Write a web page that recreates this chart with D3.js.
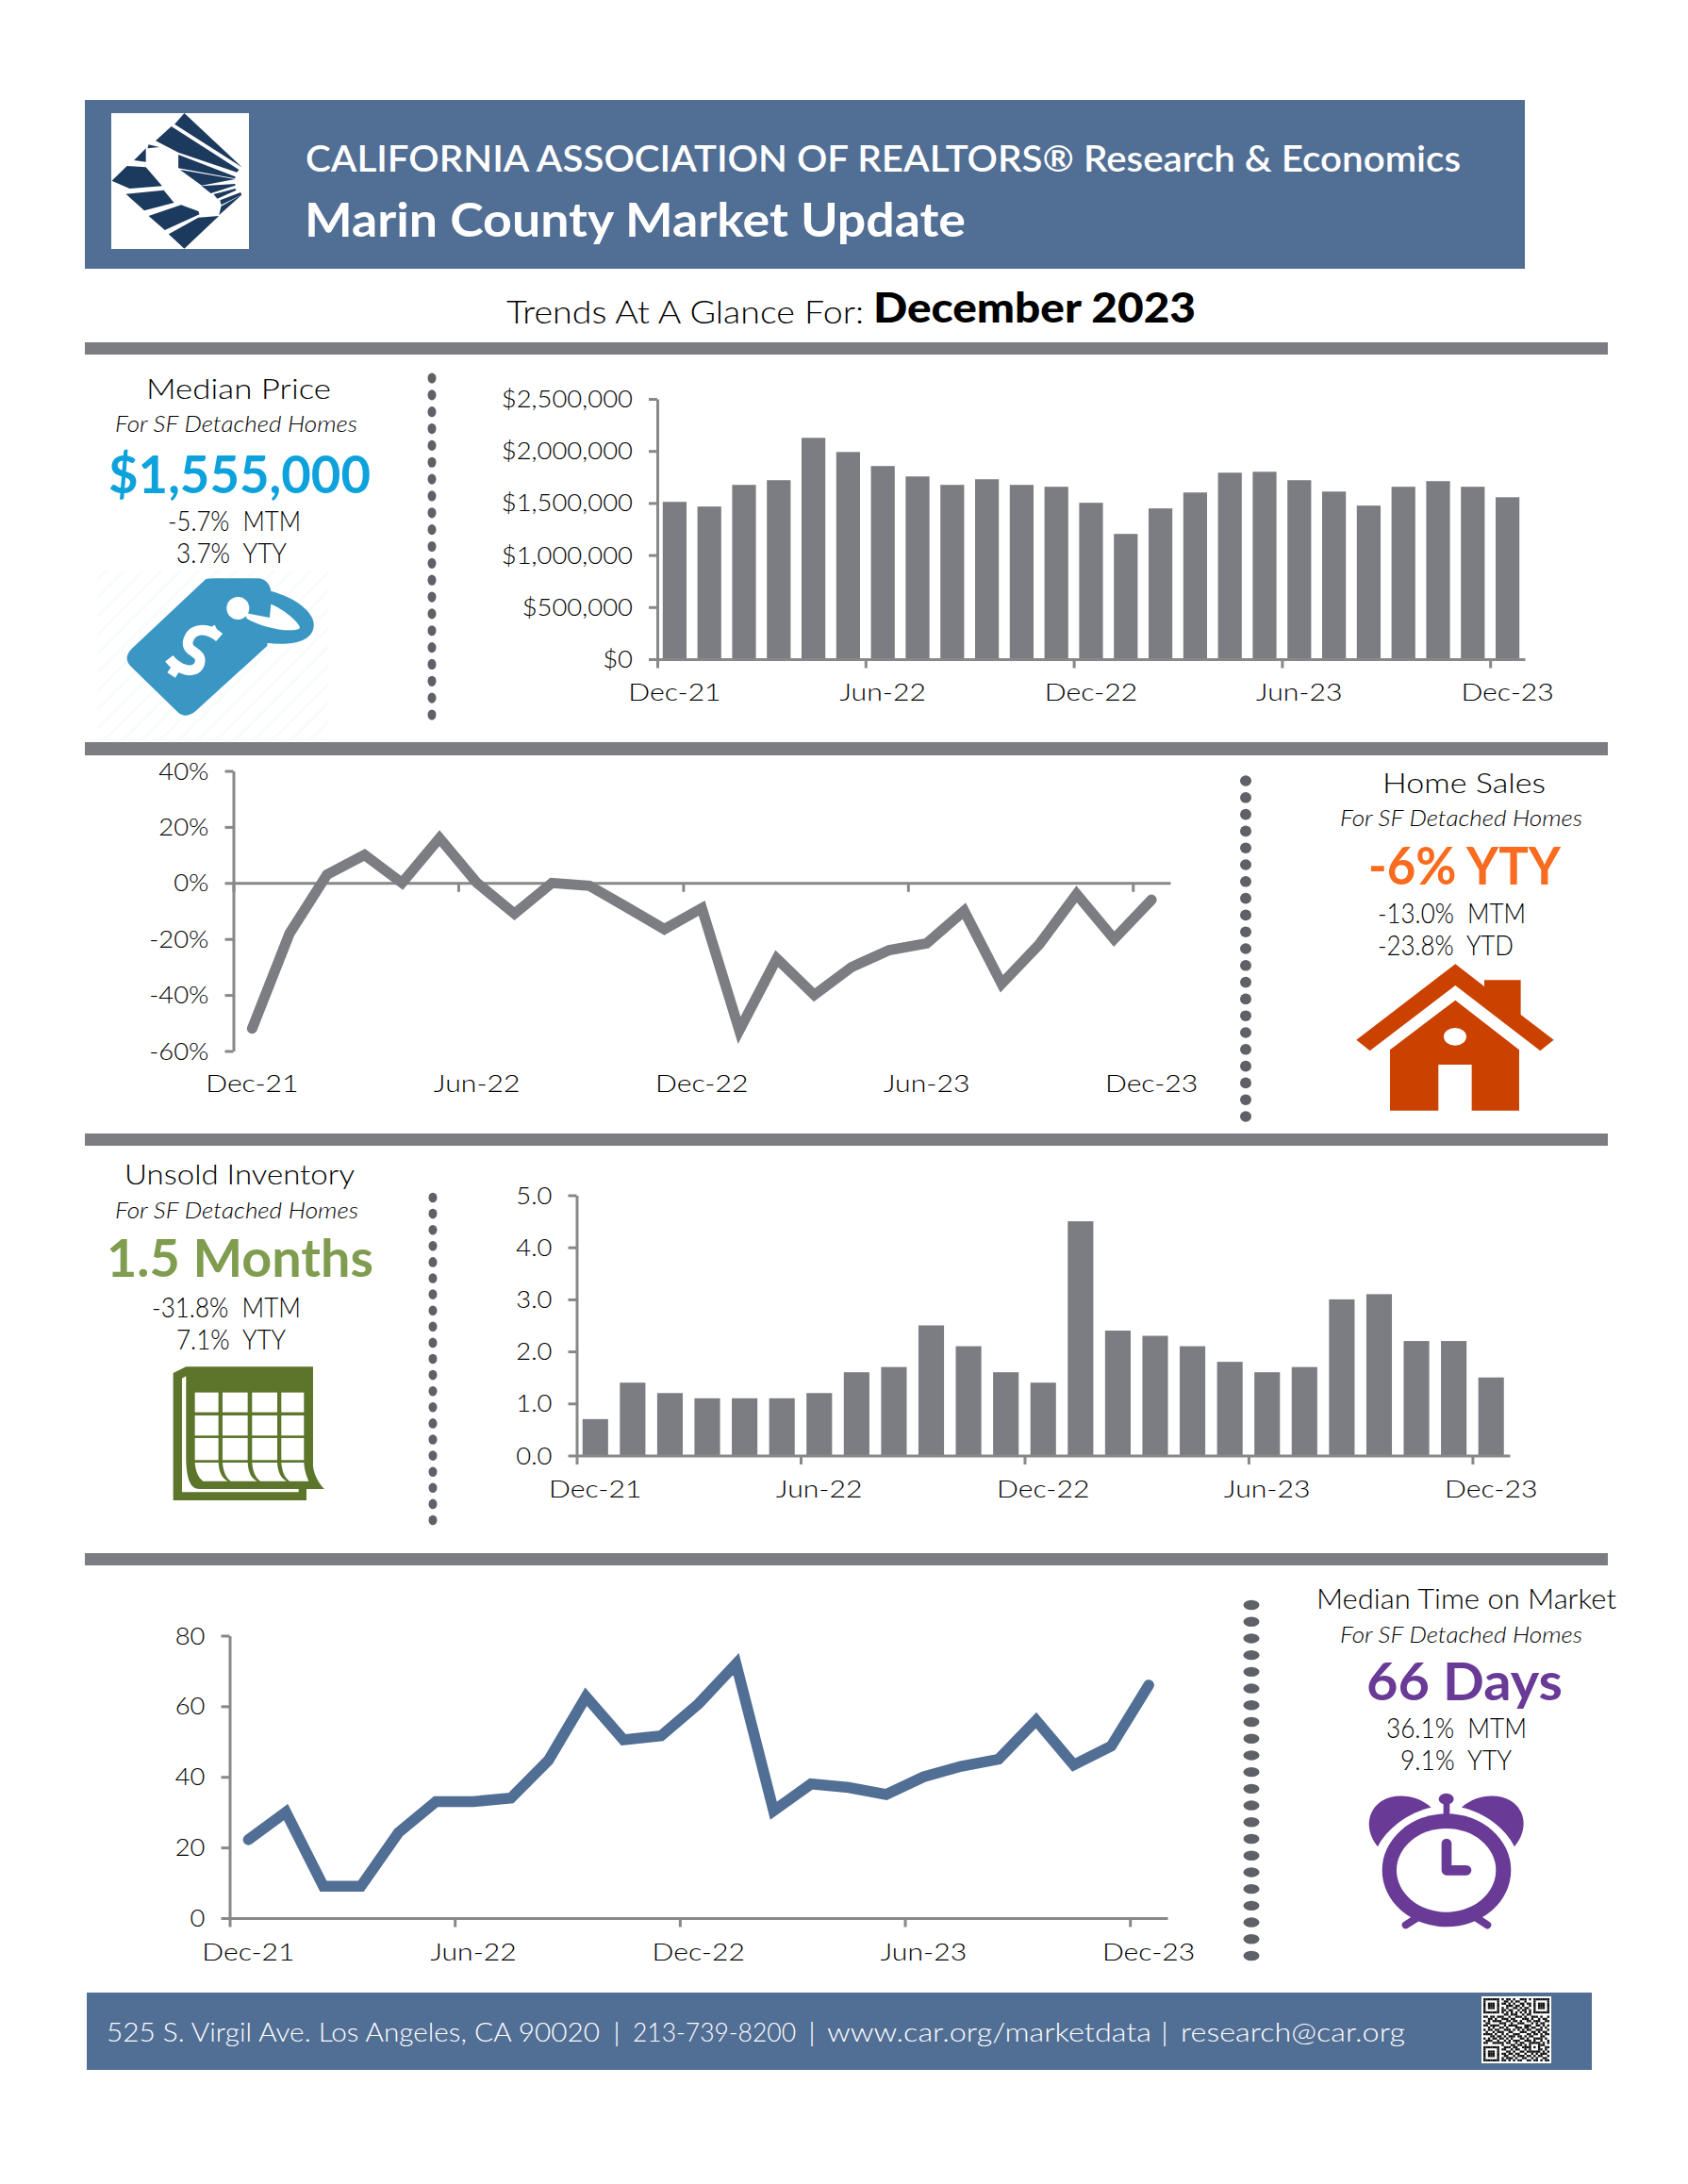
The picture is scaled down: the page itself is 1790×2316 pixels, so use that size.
<!DOCTYPE html>
<html><head><meta charset="utf-8">
<script src="https://cdn.jsdelivr.net/npm/d3@7/dist/d3.min.js"></script>
<style>html,body{margin:0;padding:0;background:#fff}svg{display:block}text{font-family:Lato,"Open Sans",sans-serif}</style>
</head><body><svg id="c" width="1790" height="2316"></svg>
<script>
const months=["Dec-21","Jan-22","Feb-22","Mar-22","Apr-22","May-22","Jun-22","Jul-22","Aug-22","Sep-22","Oct-22","Nov-22","Dec-22","Jan-23","Feb-23","Mar-23","Apr-23","May-23","Jun-23","Jul-23","Aug-23","Sep-23","Oct-23","Nov-23","Dec-23"];
const xLabels=["Dec-21","Jun-22","Dec-22","Jun-23","Dec-23"];
const edgeTicks=[0,6,12,18,24];
const medianPrice=[1511000,1466000,1674000,1719000,2126000,1990000,1855000,1755000,1674000,1728000,1674000,1656000,1502000,1203000,1448000,1601000,1791000,1800000,1719000,1610000,1475000,1656000,1710000,1656000,1555000];
const priceTicks=[0,500000,1000000,1500000,2000000,2500000];
const homeSalesYoY=[-52,-18,3,10,0,16,0,-11,0,-1,-8.7,-16.5,-9,-52.6,-27,-40,-30,-24,-21.6,-10,-36,-22,-4,-20,-6];
const salesTicks=[-60,-40,-20,0,20,40];
const inventory=[0.7,1.4,1.2,1.1,1.1,1.1,1.2,1.6,1.7,2.5,2.1,1.6,1.4,4.5,2.4,2.3,2.1,1.8,1.6,1.7,3.0,3.1,2.2,2.2,1.5];
const inventoryTicks=[0,1,2,3,4,5];
const daysOnMarket=[22.2,30,9,9,24.2,33,33,34,44.7,62.7,50.5,51.6,60.7,72,30.4,38,37,35,40,43,45,56,43.4,48.7,66];
const daysTicks=[0,20,40,60,80];
const qrRows=[
"11111110101101001110101111111",
"10000010011010110010001000001",
"10111010110101001101101011101",
"10111010001110110100101011101",
"10111010101001101011001011101",
"10000010110110010110101000001",
"11111110101010101010101111111",
"00000000011011100101100000000",
"11011011100100111010011101001",
"00110100111011000111010010110",
"10101111001101101001101110011",
"01100001110010011100010101100",
"11011110010111100011100110101",
"00101001101000111011011001010",
"10110110011101010101100111001",
"01001011100110001110011010110",
"11110100101001110001101101011",
"00011011010111011010110001100",
"10101101101010001101001111010",
"01110010010101110011101001001",
"11001111101100101100111110101",
"00000000100011011010100011100",
"11111110011101100111101010011",
"10000010110010110010100011010",
"10111010001101001101111110101",
"10111010110110110010010101110",
"10111010011001011101101011001",
"10000010101110100110010100110",
"11111110110101011001101101011"];

const grey="#7c7d82",axisCol="#888888",navy="#1c3a5e",banner="#516e94";
const svg=d3.select("#c");

function txt(x,y,s,size,opts={}){
  const t=svg.append("text").attr("x",x).attr("y",y).text(s).attr("font-size",size)
    .attr("fill",opts.fill||"#000").attr("font-weight",opts.w||300);
  if(opts.it)t.attr("font-style","italic");
  if(opts.ws)t.attr("word-spacing",opts.ws);
  if(opts.wd)t.attr("textLength",opts.wd).attr("lengthAdjust","spacingAndGlyphs");
  return t;
}
function rect(x0,y0,x1,y1,f){svg.append("rect").attr("x",x0).attr("y",y0).attr("width",x1-x0).attr("height",y1-y0).attr("fill",f);}

// banner and rules
rect(90,106,1617,285,banner);
rect(118,120,264,264,"#fff");
rect(90,363,1705,376,grey);
rect(90,787,1705,801,grey);
rect(90,1202,1705,1215,grey);
rect(90,1647,1705,1660,grey);
rect(92,2113,1688,2195,banner);

// logo
const logo=svg.append("g").attr("transform","translate(60,80) scale(0.574,0.3333)").attr("fill",navy);
[[[236,120],[343,293],[218,155]],
 [[212,162],[337,300],[333,308],[225,245],[183,208]],
 [[225,252],[330,322],[330,328],[225,295]],
 [[228,300],[330,330],[268,350]],
 [[268,352],[330,345],[330,350],[285,375]],
 [[290,378],[330,360],[332,365],[297,392]],
 [[302,397],[340,372],[342,380],[304,412]],
 [[342,380],[300,445],[304,416]],
 [[207,505],[262,452],[300,447],[236,551]],
 [[170,447],[230,412],[262,432],[264,442],[200,492]],
 [[128,377],[198,365],[217,405],[162,430]],
 [[102,335],[130,288],[165,292],[195,352],[135,360]],
 [[143,270],[165,232],[165,275]],
 [[170,220],[190,228],[168,232]]
].forEach(p=>logo.append("polygon").attr("points",p.join(" ")));

// headline text
txt(324,182,"CALIFORNIA ASSOCIATION OF REALTORS® Research & Economics",38,{fill:"#fff",w:600,wd:1225});
txt(323,251,"Marin County Market Update",50,{fill:"#fff",w:700,wd:701});
txt(537,342.5,"Trends At A Glance For:",34,{wd:379});
txt(926,342,"December 2023",44,{w:900,wd:342});

// side panels
const sub="For SF Detached Homes";
const panels=[
 [[157,423,"Median Price",193],[124,458,sub,254,1],[117,523,"$1,555,000",275,0,"#0ea2dc"],[180,563,"-5.7% MTM",138],[189,597,"3.7% YTY",114]],
 [[1468,841,"Home Sales",170],[1423,876,sub,254,1],[1453,938,"-6% YTY",201,0,"#f96b1e"],[1463,979,"-13.0% MTM",154],[1463,1013,"-23.8% YTD",141]],
 [[134,1256,"Unsold Inventory",241],[124,1292,sub,255,1],[115,1354,"1.5 Months",280,0,"#7f9c4f"],[163,1397,"-31.8% MTM",155],[189,1431,"7.1% YTY",113]],
 [[1398,1706,"Median Time on Market",315],[1423,1742,sub,254,1],[1451,1803,"66 Days",205,0,"#693a96"],[1472,1843,"36.1% MTM",146],[1487,1877,"9.1% YTY",115]]
];
panels.forEach(rows=>rows.forEach(r=>{
  const big=!!r[5];
  const small=r[2].includes("MTM")||r[2].includes("YT");
  txt(r[0]-2,r[1],r[2],big?56:r[4]?23:small?29:30,
     {wd:r[3]+3,it:r[4],fill:r[5]||"#000",w:big?700:300,ws:small&&!big?8:0});
}));

// dotted separators
[[458,401,357,21,4.5,5.6],[1321,828,356,21,6,5.8],[459,1270,342,21,4.5,5.3],[1327,1702,372,22,8.5,5.2]].forEach(d=>{
  const s=d3.scaleLinear().domain([0,d[3]-1]).range([d[1],d[1]+d[2]]);
  svg.append("g").attr("fill","#5f6168").selectAll("ellipse").data(d3.range(d[3])).join("ellipse")
    .attr("cx",d[0]).attr("cy",i=>s(i)).attr("rx",d[4]).attr("ry",d[5]);
});

// charts
function chart(o){
  const n=months.length;
  const band=d3.scaleBand().domain(months).range([o.x0,o.x1]).paddingInner(.315).paddingOuter(.1575);
  const edge=d3.scaleLinear().domain([0,n]).range([o.x0,o.x1]);
  const y=d3.scaleLinear().domain(o.dom).range([o.yb,o.yt]);
  const g=svg.append("g");
  const zero=y(0);
  if(o.bars) g.append("g").attr("fill",grey).selectAll("rect").data(o.values).join("rect")
     .attr("x",(d,i)=>band(months[i])).attr("width",band.bandwidth())
     .attr("y",d=>y(d)).attr("height",d=>y(0)-y(d));
  const ya=g.append("g").attr("transform",`translate(${o.x0},0)`)
    .call(d3.axisLeft(y).tickValues(o.ticks).tickFormat(o.fmt).tickSize(9).tickSizeOuter(0).tickPadding(17));
  const xa=g.append("g").attr("transform",`translate(0,${zero})`)
    .call(d3.axisBottom(edge).tickValues(edgeTicks).tickFormat("").tickSize(9.5).tickSizeOuter(0));
  const lab=g.append("g").attr("transform",`translate(0,${o.labY})`)
    .call(d3.axisBottom(band).tickValues(xLabels).tickSize(0).tickPadding(0));
  lab.select(".domain").remove();
  [ya,xa,lab].forEach(a=>{
    a.selectAll(".domain").attr("stroke",axisCol).attr("stroke-width",3);
    a.selectAll(".tick line").attr("stroke",axisCol).attr("stroke-width",3);
    a.selectAll("text").attr("font-size",26).attr("font-weight",300).attr("fill","#000").attr("font-family","Lato");
  });
  lab.selectAll("text").attr("y",0).attr("dy",0);
  ya.selectAll("text").attr("dy",8.5);
  const widen=(a,k)=>a.selectAll("text").each(function(){
    const w=this.getComputedTextLength();
    d3.select(this).attr("textLength",w*k).attr("lengthAdjust","spacingAndGlyphs");
  });
  widen(ya,1.055); widen(lab,1.16);
  if(!o.bars){
    const line=d3.line().x((d,i)=>band(months[i])+band.bandwidth()/2).y(d=>y(d)).curve(d3.curveLinear);
    g.append("path").datum(o.values).attr("d",line).attr("fill","none").attr("stroke",o.color)
      .attr("stroke-width",o.sw).attr("stroke-linejoin","miter").attr("stroke-miterlimit",4).attr("stroke-linecap","round");
  }
}
chart({bars:true,values:medianPrice,ticks:priceTicks,dom:[0,2500000],fmt:d3.format("$,"),x0:697,x1:1617,yb:699,yt:423,labY:743});
chart({bars:false,values:homeSalesYoY,ticks:salesTicks,dom:[-60,40],fmt:d=>d+"%",x0:247.5,x1:1241,yb:1114.5,yt:817.5,labY:1158,color:grey,sw:11});
chart({bars:true,values:inventory,ticks:inventoryTicks,dom:[0,5],fmt:d3.format(".1f"),x0:611.5,x1:1601,yb:1543.5,yt:1267.5,labY:1588});
chart({bars:false,values:daysOnMarket,ticks:daysTicks,dom:[0,80],fmt:d3.format("d"),x0:243.5,x1:1238,yb:2034,yt:1734.5,labY:2079,color:banner,sw:11.5});

// tag icon
svg.append("defs").append("pattern").attr("id","h").attr("width",14).attr("height",14).attr("patternUnits","userSpaceOnUse")
  .attr("patternTransform","rotate(-45)").append("line").attr("x1",0).attr("y1",3).attr("x2",14).attr("y2",3).attr("stroke","#f8fbfc").attr("stroke-width",3);
svg.append("rect").attr("x",103).attr("y",605).attr("width",245).attr("height",180).attr("fill","url(#h)");
const tag=svg.append("g").attr("transform","translate(80,370) scale(.3333)");
const tc="#3a97c4";
tag.append("path").attr("fill",tc).attr("d","M415 732 Q425 730 440 730 L580 730 Q615 732 622 770 L610 945 L385 1150 Q352 1180 325 1155 L178 1012 Q150 985 178 955 Z");
tag.append("path").attr("fill",tc).attr("d","M620 770 C700 790 765 840 758 885 C750 935 680 945 605 935 L560 880 Z");
tag.append("path").attr("fill","#fff").attr("d","M540 840 L545 858 C590 885 680 905 712 890 C725 880 660 825 622 812 L618 855 Z");
tag.append("circle").attr("cx",517).attr("cy",825).attr("r",36).attr("fill","#fff");
tag.append("path").attr("fill","none").attr("stroke","#fff").attr("stroke-width",32)
  .attr("d","M458 918 C420 885 370 885 358 930 C350 968 408 962 395 1002 C380 1040 325 1020 298 985");
tag.append("path").attr("fill","none").attr("stroke","#fff").attr("stroke-width",30)
  .attr("d","M430 885 L440 905 M305 1038 L322 1012");

// house icon
const house=svg.append("g").attr("transform","translate(1270,790) scale(.3333)");
house.append("polygon").attr("fill","#cb4200").attr("points","820,697 912,768 912,748 1028,748 1028,858 1133,938 1090,973 820,765 548,973 505,938");
house.append("polygon").attr("fill","#cb4200").attr("points","820,812 1023,970 1023,1163 872,1163 872,1017 766,1017 766,1163 612,1163 612,970");
house.append("ellipse").attr("cx",819).attr("cy",928).attr("rx",36).attr("ry",28).attr("fill","#fff");

// calendar icon
const cal=svg.append("g").attr("transform","translate(90,1200) scale(.3333)");
const gc="#5c752b";
cal.append("path").attr("fill",gc).attr("d","M281 768 L322 748 L726 748 L726 1065 C730 1095 745 1120 762 1137 L705 1137 L705 1173 L281 1173 Z");
cal.append("path").attr("fill","#fff").attr("d","M309 785 L322 778 L322 1050 C325 1105 335 1137 365 1137 L680 1137 L680 1147 L309 1147 Z");
const colsX=[[350,425],[438,518],[532,612],[625,697]];
const rowsY=[[830,893],[903,967],[975,1045]];
colsX.forEach((c,i)=>{
  rowsY.forEach(r=>cal.append("rect").attr("x",c[0]).attr("y",r[0]).attr("width",c[1]-c[0]).attr("height",r[1]-r[0]).attr("fill","#fff"));
  const xr=i==3?712:c[1]+30;
  cal.append("path").attr("fill","#fff").attr("d",`M${c[0]} 1053 L${c[1]} 1053 C${c[1]+2} 1085 ${c[1]+12} 1103 ${xr} 1112 L${c[0]+26} 1112 C${c[0]+10} 1100 ${c[0]+2} 1080 ${c[0]} 1053 Z`);
});

// clock icon
const clk=svg.append("g").attr("transform","translate(1290,1650) scale(.3333)");
const pc="#693a96";
clk.append("ellipse").attr("cx",732).attr("cy",1000).attr("rx",205).attr("ry",180).attr("fill",pc);
clk.append("ellipse").attr("cx",731).attr("cy",1000).attr("rx",158).attr("ry",133).attr("fill","#fff");
clk.append("path").attr("fill",pc).attr("d","M683 800 C640 760 570 752 525 780 C480 810 470 870 513 925 C540 870 610 815 683 800 Z");
clk.append("path").attr("fill",pc).attr("d","M780 800 C823 760 893 752 938 780 C983 810 993 870 948 925 C923 870 853 815 780 800 Z");
clk.append("rect").attr("x",722).attr("y",785).attr("width",20).attr("height",40).attr("fill",pc);
clk.append("ellipse").attr("cx",731).attr("cy",773).attr("rx",24).attr("ry",18).attr("fill",pc);
clk.append("path").attr("fill","none").attr("stroke",pc).attr("stroke-width",32).attr("stroke-linecap","round").attr("stroke-linejoin","round").attr("d","M732 915 L732 1000 L795 1000");
clk.append("path").attr("fill","none").attr("stroke",pc).attr("stroke-width",24).attr("stroke-linecap","round").attr("d","M640 1150 L602 1174 M825 1150 L862 1174");

// footer: one line, with each run placed where the reference has it
const footerRuns=["525 S. Virgil Ave. Los Angeles, CA 90020"," | ","213-739-8200"," | ","www.car.org/marketdata","| ","research@car.org"];
const footerAt=[[113,523],[650,8],[671,173],[857,8],[877,344],[1231,8],[1252,238]];
const ft=svg.append("text").attr("y",2165).attr("font-size",27).attr("font-weight",300).attr("fill","#fff");
footerRuns.forEach((s,i)=>{
  ft.append("tspan").attr("x",footerAt[i][0]).text(s.trim()).attr("textLength",footerAt[i][1]).attr("lengthAdjust","spacingAndGlyphs");
});
rect(1571,2117,1645,2188,"#fff");
const qn=qrRows.length;
const qx=d3.scaleBand().domain(d3.range(qn)).range([1573,1643]);
const qy=d3.scaleBand().domain(d3.range(qn)).range([2119,2186]);
qrRows.forEach((r,j)=>r.split("").forEach((b,i)=>{
  if(b==="1")svg.append("rect").attr("x",qx(i)).attr("y",qy(j)).attr("width",qx.bandwidth()).attr("height",qy.bandwidth()).attr("fill","#111");
}));
</script></body></html>
